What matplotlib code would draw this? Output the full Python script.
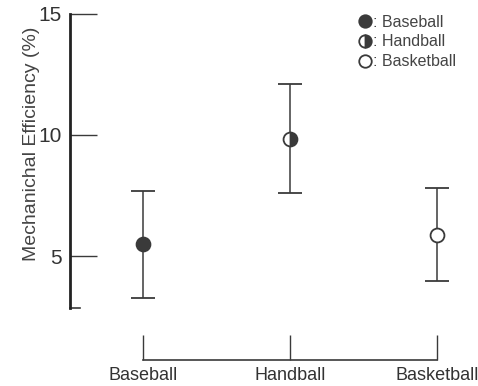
import matplotlib
matplotlib.use('Agg')
from matplotlib import pyplot as plt
from matplotlib.lines import Line2D

plt.rcParams['font.family'] = ['Liberation Sans', 'DejaVu Sans']

#Mechanical efficiency per sport (mean +/- SD)
sports = ['Baseball', 'Handball', 'Basketball']
efficiency = [5.5, 9.85, 5.9]
sd = [2.2, 2.25, 1.9]
fills = ['full', 'right', 'none']

ink = '#3a3a3a'

fig = plt.figure(figsize=(4.78, 3.86), dpi=100)
ax = fig.add_axes([70/478, 1-307.5/386, 400/478, 294/386])

x = list(range(len(sports)))
for i in x:
    ax.errorbar(x[i], efficiency[i], yerr=sd[i], fmt='none', ecolor=ink,
                elinewidth=1.1, capsize=8.3, capthick=1.3, zorder=2)
    if fills[i] == 'none':
        ax.plot(x[i], efficiency[i], 'o', ms=10, mfc='white', mec=ink, mew=1.3, zorder=3)
    else:
        ax.plot(x[i], efficiency[i], 'o', ms=10, fillstyle=fills[i],
                color=ink, markerfacecoloralt='white', mec=ink, mew=1.3, zorder=3)

ax.set_xlim(-0.497, 2.224)
ax.set_ylim(2.9, 15)

#axis styling
for s in ['top', 'right']:
    ax.spines[s].set_visible(False)
ax.spines['left'].set_linewidth(2.0)
ax.spines['left'].set_color('#222222')
ax.spines['bottom'].set_position(('outward', 37.8))
ax.spines['bottom'].set_bounds(0, 2)
ax.spines['bottom'].set_linewidth(1.2)
ax.spines['bottom'].set_color(ink)
ax.axhline(2.9, xmin=0, xmax=10/400, color=ink, lw=1.2, clip_on=False)

ax.set_yticks([5, 10, 15])
ax.tick_params(axis='y', direction='in', length=19.5, width=1.0, color=ink,
               pad=6, labelsize=15, labelcolor='#333333')
ax.set_xticks(x)
ax.set_xticklabels(sports)
ax.tick_params(axis='x', direction='in', length=18, width=1.0, color=ink,
               pad=5, labelsize=13, labelcolor='#333333')

ax.set_ylabel('Mechanichal Efficiency (%)', fontsize=14, color='#444444')
ax.yaxis.set_label_coords(-0.075, 0.556)

handles = []
for i in x:
    h = Line2D([], [], ls='none', marker='o', ms=9, fillstyle=fills[i], color=ink,
               mfc=(ink if fills[i] != 'none' else 'white'), markerfacecoloralt='white',
               mec=ink, mew=1.3)
    handles.append(h)
leg = ax.legend(handles, [': ' + s for s in sports], loc='upper right',
                bbox_to_anchor=(1.0, 1.045), frameon=False, fontsize=11.5,
                handlelength=0.8, handletextpad=0.1, labelspacing=0.3,
                labelcolor='#444444')

plt.savefig('out.png', dpi=100)
